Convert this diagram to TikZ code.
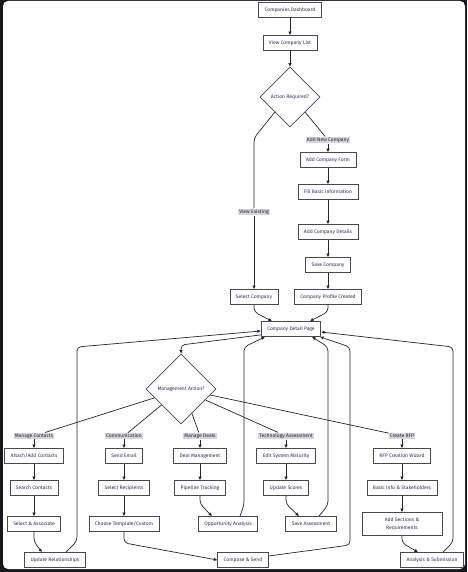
\documentclass[tikz,border=0pt]{standalone}
\usepackage{fontspec}
\setmainfont{Fira Sans}
\usetikzlibrary{arrows.meta,positioning,shapes.geometric,calc}
\definecolor{boxline}{RGB}{72,72,84}
\definecolor{boxtext}{RGB}{50,44,84}
\definecolor{lblfill}{RGB}{214,214,214}
\definecolor{framedark}{RGB}{24,24,26}
\newcommand{\flowfont}{\fontsize{5}{6.2}\selectfont}

\begin{document}
\begin{tikzpicture}[x=1pt, y=-1pt,
  box/.style={draw=boxline, fill=white, line width=0.75pt, align=center, minimum height=15pt, inner xsep=6pt, inner ysep=2pt, font=\flowfont, text=boxtext},
  dec/.style={draw=boxline, fill=white, line width=0.75pt, diamond, aspect=1, inner sep=0pt, font=\flowfont, text=boxtext},
  lbl/.style={fill=lblfill, inner xsep=1pt, inner ysep=1pt, font=\flowfont, text=boxtext!80!black},
  line/.style={draw=black!85, line width=0.7pt},
  arr/.style={line, -{Latex[length=3.5pt,width=3.5pt]}}]
% frame
\fill[framedark] (0,0) rectangle (467,572);
\fill[white, rounded corners=5pt] (3,1) rectangle (465,569);
\useasboundingbox (0,0) rectangle (467,572);
% top part
\node[box] (dash) at (290,10) {Companies Dashboard};
\node[box] (list) at (290,43) {View Company List};
\node[dec, minimum width=60pt, minimum height=60pt] (act) at (290,97) {Action Required?};
\node[lbl] (lblNew) at (328,140) {Add New Company};
\node[box] (form) at (328,160) {Add Company Form};
\node[box] (fill) at (328,192) {Fill Basic Information};
\node[box] (det) at (328,232) {Add Company Details};
\node[box] (saveco) at (328,265) {Save Company};
\node[box] (prof) at (328,297) {Company Profile Created};
\node[lbl] (lblView) at (254,212) {View Existing};
\node[box] (sel) at (254,297) {Select Company};
\node[box] (cdp) at (291,329) {Company Detail Page};
\node[dec, minimum width=70pt, minimum height=70pt] (mgmt) at (181,389) {Management Action?};
% branch labels
\node[lbl] (lblCon) at (34,436) {Manage Contacts};
\node[lbl] (lblCom) at (124,436) {Communication};
\node[lbl] (lblDeal) at (200,436) {Manage Deals};
\node[lbl] (lblTech) at (286,436) {Technology Assessment};
\node[lbl] (lblRfp) at (402,436) {Create RFP};
% contacts
\node[box] (attach) at (34,456) {Attach/Add Contacts};
\node[box] (search) at (34,488) {Search Contacts};
\node[box] (assoc) at (34,524) {Select \& Associate};
\node[box] (rel) at (55,560) {Update Relationships};
% communication
\node[box] (email) at (124,456) {Send Email};
\node[box] (recip) at (124,488) {Select Recipients};
\node[box] (tmpl) at (124,524) {Choose Template/Custom};
\node[box] (compose) at (243,560) {Compose \& Send};
% deals
\node[box] (deal) at (200,456) {Deal Management};
\node[box] (pipe) at (200,488) {Pipeline Tracking};
\node[box] (opp) at (228,524) {Opportunity Analysis};
% technology
\node[box] (matur) at (286,456) {Edit System Maturity};
\node[box] (scores) at (286,488) {Update Scores};
\node[box] (saveas) at (311,524) {Save Assessment};
% rfp
\node[box] (wizard) at (402,456) {RFP Creation Wizard};
\node[box] (basic) at (402,488) {Basic Info \& Stakeholders};
\node[box, minimum width=80pt, minimum height=23pt, font=\fontsize{5}{8}\selectfont] (sect) at (402,524) {Add Sections \&\\Requirements};
\node[box] (submit) at (432,560) {Analysis \& Submission};
% connectors
\draw[arr] (dash) -- (list);
\draw[arr] (list) -- (act);
\draw[line] (act.south east) -- (lblNew);
\draw[arr] (lblNew) -- (form);
\draw[line, rounded corners=4pt] (act.south west) -- (254,138) -- (lblView);
\draw[arr] (lblView) -- (sel);
\draw[arr] (form) -- (fill);
\draw[arr] (fill) -- (det);
\draw[arr] (det) -- (saveco);
\draw[arr] (saveco) -- (prof);
\draw[arr, rounded corners=4pt] (sel.south) -- ++(0,7) -- ($(cdp.north)+(-19,0)$);
\draw[arr, rounded corners=4pt] (prof.south) -- ++(0,7) -- ($(cdp.north)+(19,0)$);
\draw[arr, rounded corners=4pt] ($(cdp.south west)+(0,-2)$) -- (181,345) -- (mgmt.north);
\draw[line] ($(mgmt.west)!0.25!(mgmt.south)$) -- (lblCon);
\draw[line] ($(mgmt.west)!0.45!(mgmt.south)$) -- (lblCom);
\draw[line] ($(mgmt.south)!0.31!(mgmt.east)$) -- (lblDeal);
\draw[line] ($(mgmt.south)!0.69!(mgmt.east)$) -- (lblTech);
\draw[line] ($(mgmt.south)!0.83!(mgmt.east)$) -- (lblRfp);
\draw[arr] (lblCon) -- (attach);
\draw[arr] (lblCom) -- (email);
\draw[arr] (lblDeal) -- (deal);
\draw[arr] (lblTech) -- (matur);
\draw[arr] (lblRfp) -- (wizard);
\draw[arr] (attach) -- (search);
\draw[arr] (search) -- (assoc);
\draw[arr] (email) -- (recip);
\draw[arr] (recip) -- (tmpl);
\draw[arr] (deal) -- (pipe);
\draw[arr] (matur) -- (scores);
\draw[arr] (wizard) -- (basic);
\draw[arr] (basic) -- (sect);
\draw[arr, rounded corners=4pt] (assoc.south) -- ++(0,10) -- ($(rel.north)+(-13,0)$);
\draw[arr, rounded corners=4pt] (pipe.south) -- ++(0,8) -- ($(opp.north)+(-16,0)$);
\draw[arr, rounded corners=4pt] (scores.south) -- ++(0,8) -- ($(saveas.north)+(-12,0)$);
\draw[arr, rounded corners=4pt] (sect.south) -- ++(0,7) -- ($(submit.north)+(-14,0)$);
\draw[arr, rounded corners=4pt] (tmpl.south) -- ++(0,11) -- (compose.west);
% back to detail page
\draw[arr, rounded corners=4pt] ($(rel.north)+(11,0)$) -- (77,541) -- (77,347) -- ($(cdp.west)+(0,2)$);
\draw[arr, rounded corners=4pt] ($(opp.north)+(12,0)$) -- (244,505) -- (244,347) -- ($(cdp.south)+(-26,0)$);
\draw[arr, rounded corners=4pt] ($(saveas.north)+(8,0)$) -- (328,505) -- (328,347) -- ($(cdp.south)+(21,0)$);
\draw[arr, rounded corners=4pt] ($(compose.east)+(0,-4)$) -- (350,545) -- (350,347) -- ($(cdp.south east)+(-1,0)$);
\draw[arr, rounded corners=4pt] ($(submit.north)+(11,0)$) -- (453,542) -- (453,347) -- ($(cdp.east)+(0,3)$);
\end{tikzpicture}
\end{document}
